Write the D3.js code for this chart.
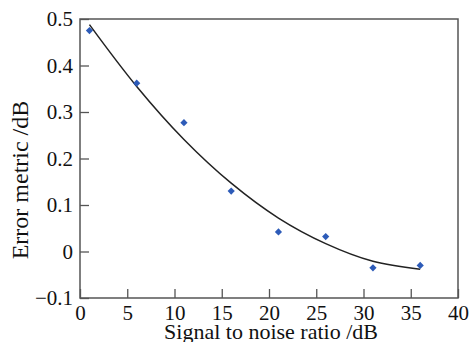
<!DOCTYPE html>
<html>
<head>
<meta charset="utf-8">
<script src="https://cdn.jsdelivr.net/npm/d3@7"></script>
<style>
  body { margin: 0; background: #fff; }
  text { font-family: "Liberation Serif", "DejaVu Serif", serif; fill: #111; }
</style>
</head>
<body>
<div id="chart"></div>
<script>
// Measured points
const snr = [1, 6, 11, 16, 21, 26, 31, 36];
const errorMetric = [0.475, 0.362, 0.277, 0.13, 0.042, 0.032, -0.035, -0.030];

// Fitted curve
const fitX = [1, 6, 11, 16, 21, 26, 31, 36];
const fitY = [0.488, 0.355, 0.241, 0.147, 0.072, 0.017, -0.021, -0.038];

const xTicks = [0, 5, 10, 15, 20, 25, 30, 35, 40];
const yTicks = [-0.1, 0, 0.1, 0.2, 0.3, 0.4, 0.5];

const totalW = 471, totalH = 342;
const margin = { top: 19, right: 13, bottom: 44, left: 80 };
const width = totalW - margin.left - margin.right;
const height = totalH - margin.top - margin.bottom;

const svg = d3.select('#chart').append('svg')
    .attr('width', totalW)
    .attr('height', totalH);

const g = svg.append('g')
    .attr('transform', 'translate(' + margin.left + ',' + margin.top + ')');

const xScale = d3.scaleLinear().domain([0, 40]).range([0, width]);
const yScale = d3.scaleLinear().domain([-0.1, 0.5]).range([height, 0]);

const axisColor = '#555';

// Frame
g.append('rect')
    .attr('x', 0).attr('y', 0)
    .attr('width', width).attr('height', height)
    .attr('fill', 'none')
    .attr('stroke', axisColor)
    .attr('stroke-width', 1.5);

// X axis (ticks pointing inward)
const xNode = g.append('g')
    .attr('transform', 'translate(0,' + height + ')')
    .call(d3.axisBottom(xScale).tickValues(xTicks).tickSize(-9).tickPadding(7).tickFormat(d3.format('d')));
xNode.select('.domain').remove();
xNode.selectAll('line').attr('stroke', axisColor).attr('stroke-width', 1.3);
xNode.selectAll('text')
    .style('font-family', '"Liberation Serif", serif')
    .style('font-size', '21px')
    .attr('fill', '#111');

// Y axis
const yFmt = d => d === 0 ? '0' : (d < 0 ? '\u2212' + Math.abs(d).toFixed(1) : d.toFixed(1));
const yNode = g.append('g')
    .call(d3.axisLeft(yScale).tickValues(yTicks).tickSize(-9).tickPadding(7).tickFormat(yFmt));
yNode.select('.domain').remove();
yNode.selectAll('line').attr('stroke', axisColor).attr('stroke-width', 1.3);
yNode.selectAll('text')
    .style('font-family', '"Liberation Serif", serif')
    .style('font-size', '21px')
    .attr('fill', '#111');

// Fitted curve
const line = d3.line()
    .curve(d3.curveCatmullRom)
    .x((d, i) => xScale(fitX[i]))
    .y(d => yScale(d));

g.append('path')
    .attr('d', line(fitY))
    .attr('fill', 'none')
    .attr('stroke', '#222')
    .attr('stroke-width', 1.5);

// Diamond markers (rotated squares)
const diamond = d3.symbol().type(d3.symbolSquare).size(26);
g.selectAll('.pt')
    .data(errorMetric)
    .enter().append('path')
    .attr('class', 'pt')
    .attr('d', diamond)
    .attr('transform', (d, i) => 'translate(' + xScale(snr[i]) + ',' + yScale(d) + ') rotate(45)')
    .attr('fill', '#2d5bb8');

// Axis titles
svg.append('text')
    .attr('x', margin.left + width / 2 + 2)
    .attr('y', 339)
    .attr('text-anchor', 'middle')
    .style('font-size', '22px')
    .text('Signal to noise ratio /dB');

svg.append('text')
    .attr('transform', 'translate(28,180) rotate(-90)')
    .attr('text-anchor', 'middle')
    .style('font-size', '24px')
    .text('Error metric /dB');
</script>
</body>
</html>
